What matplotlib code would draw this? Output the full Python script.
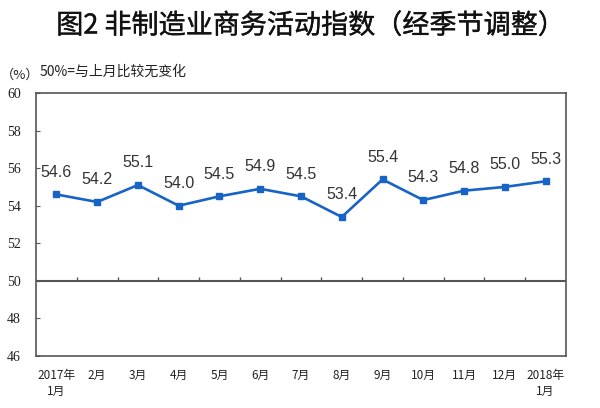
import matplotlib
matplotlib.use("Agg")
import matplotlib.pyplot as plt
import matplotlib.patheffects as pe
import numpy as np

months = ["2017年\n1月", "2月", "3月", "4月", "5月", "6月", "7月", "8月", "9月",
          "10月", "11月", "12月", "2018年\n1月"]
values = [54.6, 54.2, 55.1, 54.0, 54.5, 54.9, 54.5, 53.4, 55.4, 54.3, 54.8, 55.0, 55.3]
yticks = [46, 48, 50, 52, 54, 56, 58, 60]

CJK = ["Noto Sans CJK SC", "DejaVu Sans"]
plt.rcParams['font.family'] = CJK

fig = plt.figure(figsize=(6, 4.08), dpi=100)
ax = fig.add_axes([36/600, 1-356/408, (566-36)/600, (356-93)/408])

x = np.arange(len(values))
line_color = "#1763c6"
ax.plot(x, values, color=line_color, lw=1.9, marker="s", markersize=4.5,
        markerfacecolor=line_color, markeredgecolor=line_color, zorder=3)

for xi, v in zip(x, values):
    ax.annotate(f"{v:.1f}", (xi, v), xytext=(0, 16), textcoords="offset points",
                ha="center", va="center", fontsize=11.5, color="#333333",
                family=["Liberation Sans", "DejaVu Sans"])

ax.set_xlim(-0.5, len(values) - 0.5)
ax.set_ylim(yticks[0], yticks[-1])
ax.set_yticks(yticks)
ax.set_yticklabels([str(t) for t in yticks], family=["Liberation Serif"], fontsize=10, color="#222222")
ax.tick_params(axis="y", direction="in", length=3, pad=11, color="#555555")

ax.set_xticks(x)
ax.set_xticklabels(months, fontsize=8.5, color="#222222", linespacing=1.3, va="top", fontweight="medium")
ax.tick_params(axis="x", length=0, pad=9)

# 50 reference line with category boundary ticks
ax.axhline(50, color="#555555", lw=1.5, zorder=2)
bounds = np.arange(0.5, len(values) - 0.5, 1.0)
ax.vlines(bounds, 50, 50.18, color="#555555", lw=1.0, zorder=2)

for s in ax.spines.values():
    s.set_color("#555555")
    s.set_linewidth(1.2)

fig.text(311/600, 1-26/408, "图2 非制造业商务活动指数（经季节调整）", ha="center", va="center",
         fontsize=19.5, fontweight="normal", color="#111111",
         path_effects=[pe.Stroke(linewidth=0.25, foreground="#111111"), pe.Normal()])
fig.text(1/600, 1-75/408, "（%）", ha="left", va="center", fontsize=9.5, color="#222222")
fig.text(40/600, 1-72/408, "50%=与上月比较无变化", ha="left", va="center", fontsize=10, color="#222222")

fig.savefig("out.png", dpi=100, facecolor="white")
